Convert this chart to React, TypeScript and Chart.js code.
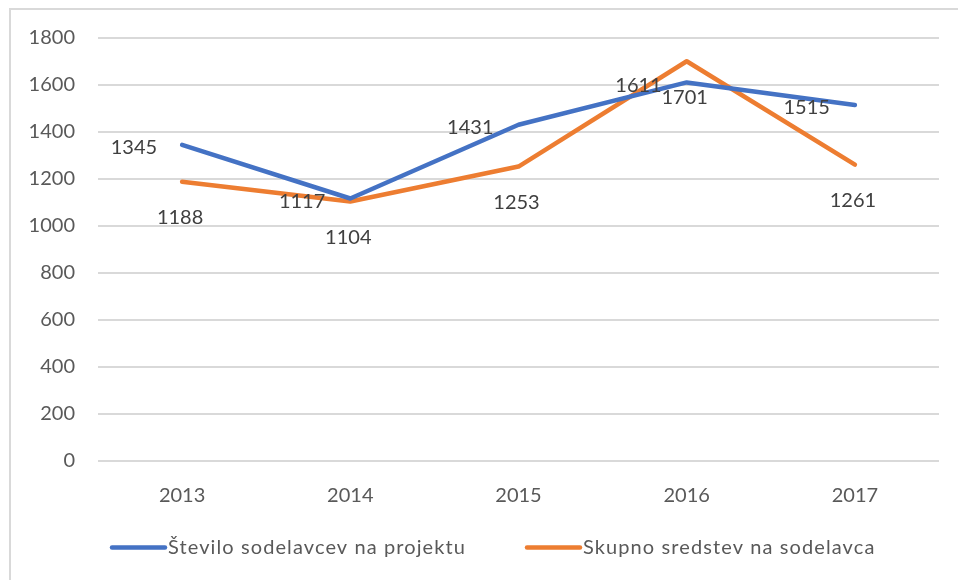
import React, { useEffect, useRef } from "react";
import { Chart, registerables } from "chart.js";

Chart.register(...registerables);

const years: string[] = ["2013", "2014", "2015", "2016", "2017"];
const sodelavci: number[] = [1345, 1117, 1431, 1611, 1515];
const sredstva: number[] = [1188, 1104, 1253, 1701, 1261];
const seriesNames: string[] = ["Število sodelavcev na projektu", "Skupno sredstev na sodelavca"];
const seriesColors: string[] = ["#4472C4", "#ED7D31"];
const yMin = 0;
const yMax = 1800;
const yStep = 200;

const FONT = "Lato, 'Open Sans', sans-serif";

const valueLabels = {
  id: "valueLabels",
  afterDatasetsDraw(chart: any) {
    const ctx = chart.ctx;
    ctx.save();
    ctx.font = `20px ${FONT}`;
    ctx.fillStyle = "#404040";
    ctx.textBaseline = "middle";
    chart.data.datasets.forEach((ds: any, i: number) => {
      const meta = chart.getDatasetMeta(i);
      meta.data.forEach((pt: any, j: number) => {
        const v = ds.data[j];
        if (i === 0) {
          ctx.textAlign = "right";
          ctx.fillText(String(v), pt.x - 25, pt.y + 3);
        } else {
          ctx.textAlign = "center";
          ctx.fillText(String(v), pt.x - 2, pt.y + 36);
        }
      });
    });
    ctx.restore();
  },
};

const lineLegend = {
  id: "lineLegend",
  afterDraw(chart: any) {
    const ctx = chart.ctx;
    const y = 547.5;
    const starts = [112, 527];
    ctx.save();
    ctx.font = `20px ${FONT}`;
    ctx.textBaseline = "middle";
    ctx.textAlign = "left";
    chart.data.datasets.forEach((ds: any, i: number) => {
      const x0 = starts[i];
      ctx.strokeStyle = ds.borderColor;
      ctx.lineWidth = 4.5;
      ctx.lineCap = "round";
      ctx.beginPath();
      ctx.moveTo(x0, y);
      ctx.lineTo(x0 + 53, y);
      ctx.stroke();
      ctx.fillStyle = "#595959";
      (ctx as any).letterSpacing = "1.1px";
      ctx.fillText(ds.label, x0 + 56, y);
      (ctx as any).letterSpacing = "0px";
    });
    ctx.restore();
  },
};

export default function App() {
  const ref = useRef<HTMLCanvasElement | null>(null);

  useEffect(() => {
    document.body.style.margin = "0";
    if (!ref.current) return;
    const chart = new Chart(ref.current, {
      type: "line",
      data: {
        labels: years,
        datasets: [
          {
            label: seriesNames[0],
            data: sodelavci,
            borderColor: seriesColors[0],
            backgroundColor: seriesColors[0],
            borderWidth: 4.5,
            pointRadius: 0,
            tension: 0,
            borderCapStyle: "round",
            borderJoinStyle: "round",
          },
          {
            label: seriesNames[1],
            data: sredstva,
            borderColor: seriesColors[1],
            backgroundColor: seriesColors[1],
            borderWidth: 4.5,
            pointRadius: 0,
            tension: 0,
            borderCapStyle: "round",
            borderJoinStyle: "round",
          },
        ],
      },
      options: {
        responsive: false,
        animation: false,
        devicePixelRatio: 1,
        layout: { padding: { left: 0, right: 19, top: 38, bottom: 0 } },
        plugins: {
          legend: { display: false },
          tooltip: { enabled: false },
          title: { display: false },
        },
        scales: {
          x: {
            offset: true,
            grid: { display: false },
            border: { display: false },
            ticks: {
              color: "#595959",
              font: { family: FONT, size: 20 },
              padding: 15,
              maxRotation: 0,
            },
            afterFit: (scale: any) => {
              scale.height = 119;
            },
          },
          y: {
            min: yMin,
            max: yMax,
            grid: { color: "#d9d9d9", lineWidth: 2, drawTicks: false },
            border: { display: false },
            ticks: {
              stepSize: yStep,
              color: "#595959",
              font: { family: FONT, size: 20 },
              padding: 23,
              callback: (v: any) => String(v),
            },
            afterFit: (scale: any) => {
              scale.width = 98;
            },
          },
        },
      },
      plugins: [valueLabels, lineLegend],
    });
    return () => chart.destroy();
  }, []);

  return (
    <div style={{ position: "fixed", left: 0, top: 0, width: 958, height: 580, background: "#fff", overflow: "hidden" }}>
      <div
        style={{
          position: "absolute",
          left: 9,
          top: 8,
          width: 958,
          height: 580,
          borderLeft: "2px solid #d9d9d9",
          borderTop: "2px solid #d9d9d9",
        }}
      />
      <canvas ref={ref} width={958} height={580} style={{ position: "absolute", left: 0, top: 0, width: 958, height: 580 }} />
    </div>
  );
}
